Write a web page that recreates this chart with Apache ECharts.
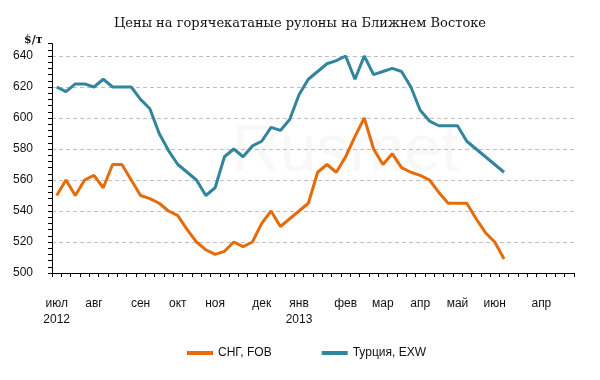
<!DOCTYPE html>
<html>
<head>
<meta charset="utf-8">
<script src="https://cdn.jsdelivr.net/npm/echarts@6/dist/echarts.min.js"></script>
<style>html,body{margin:0;padding:0;background:#fff}#c{width:600px;height:380px}</style>
</head>
<body>
<div id="c"></div>
<script>
const chartTitle = 'Цены на горячекатаные рулоны на Ближнем Востоке';
const unitLabel = '$/т';
const categories = ['1','2','3','4','5','6','7','8','9','10','11','12','13','14','15','16','17','18','19','20',
  '21','22','23','24','25','26','27','28','29','30','31','32','33','34','35','36','37','38','39','40',
  '41','42','43','44','45','46','47','48','49','50','51','52','53','54','55','56'];
const tickLabels = ['июл\n2012','','','','авг','','','','','сен','','','','окт','','','','ноя','','','','','дек','','','',
  'янв\n2013','','','','','фев','','','','мар','','','','апр','','','','май','','','','июн','','','','','апр','','',''];
const seriesNames = ['СНГ, FOB', 'Турция, EXW'];
const cisFob = [550,560,550,560,563,555,570,570,560,550,548,545,540,537,528,520,515,512,514,520,517,520,532,540,530,535,540,545,565,570,565,575,588,600,580,570,577,568,565,563,560,552,545,545,545,535,526,520,509];
const turkeyExw = [620,617,622,622,620,625,620,620,620,612,606,590,579,570,565,560,550,555,575,580,575,582,585,594,592,599,615,625,630,635,637,640,625,640,628,630,632,630,620,605,598,595,595,595,585,580,575,570,565];
const yMin = 500, yMax = 648, yLabelStep = 20, yTickStep = 4;

const chart = echarts.init(document.getElementById('c'));
const grid = '#bfbfbf';
const t = 'rgba(0,0,0,0)';
chart.setOption({
  animation: false,
  title: [
    { text: chartTitle, left: 'center', top: 12, textStyle: { fontFamily: 'DejaVu Serif', fontSize: 13, fontWeight: 'normal', color: '#111' } },
    { text: unitLabel, left: 19, top: 30, textStyle: { fontFamily: 'DejaVu Serif', fontSize: 11, fontWeight: 'bold', color: '#111' } }
  ],
  graphic: [{ type: 'text', left: 232, top: 120, silent: true, z: -1,
    style: { text: 'Rusmet', fontFamily: 'Liberation Sans', fontSize: 66, fill: '#f8f8f8' } }],
  legend: {
    bottom: 21, left: 187, padding: 0, itemGap: 50, itemWidth: 26, itemHeight: 4, icon: 'rect',
    textStyle: { fontFamily: 'Liberation Sans', fontSize: 12, color: '#111' },
    data: seriesNames
  },
  grid: { left: 52, right: 26, top: 43.6, bottom: 107 },
  xAxis: {
    type: 'category', data: categories, boundaryGap: true,
    axisLine: { lineStyle: { color: '#000', width: 1 } },
    axisTick: { show: true, interval: 0, length: 4, lineStyle: { color: '#000', width: 1 } },
    axisLabel: { interval: 0, margin: 23, fontFamily: 'Liberation Sans', fontSize: 12, lineHeight: 16, color: '#111',
      formatter: (v, i) => tickLabels[i] }
  },
  yAxis: {
    type: 'value', min: yMin, max: yMax, interval: yTickStep,
    axisLine: { show: true, lineStyle: { color: '#000', width: 1 } },
    axisTick: { show: true, length: 4, lineStyle: { color: '#000', width: 1 } },
    axisLabel: { margin: 19, fontFamily: 'Liberation Sans', fontSize: 12, color: '#111',
      formatter: v => (v % yLabelStep === 0 ? String(v) : '') },
    splitLine: { show: true, showMinLine: false, showMaxLine: false,
      lineStyle: { color: [t, t, t, t, grid], type: [4, 3], width: 1 } }
  },
  series: [
    { name: seriesNames[0], type: 'line', data: cisFob, symbol: 'none', lineStyle: { color: '#E46C0A', width: 3 }, itemStyle: { color: '#E46C0A' } },
    { name: seriesNames[1], type: 'line', data: turkeyExw, symbol: 'none', lineStyle: { color: '#31859C', width: 3 }, itemStyle: { color: '#31859C' } }
  ]
});
</script>
</body>
</html>
